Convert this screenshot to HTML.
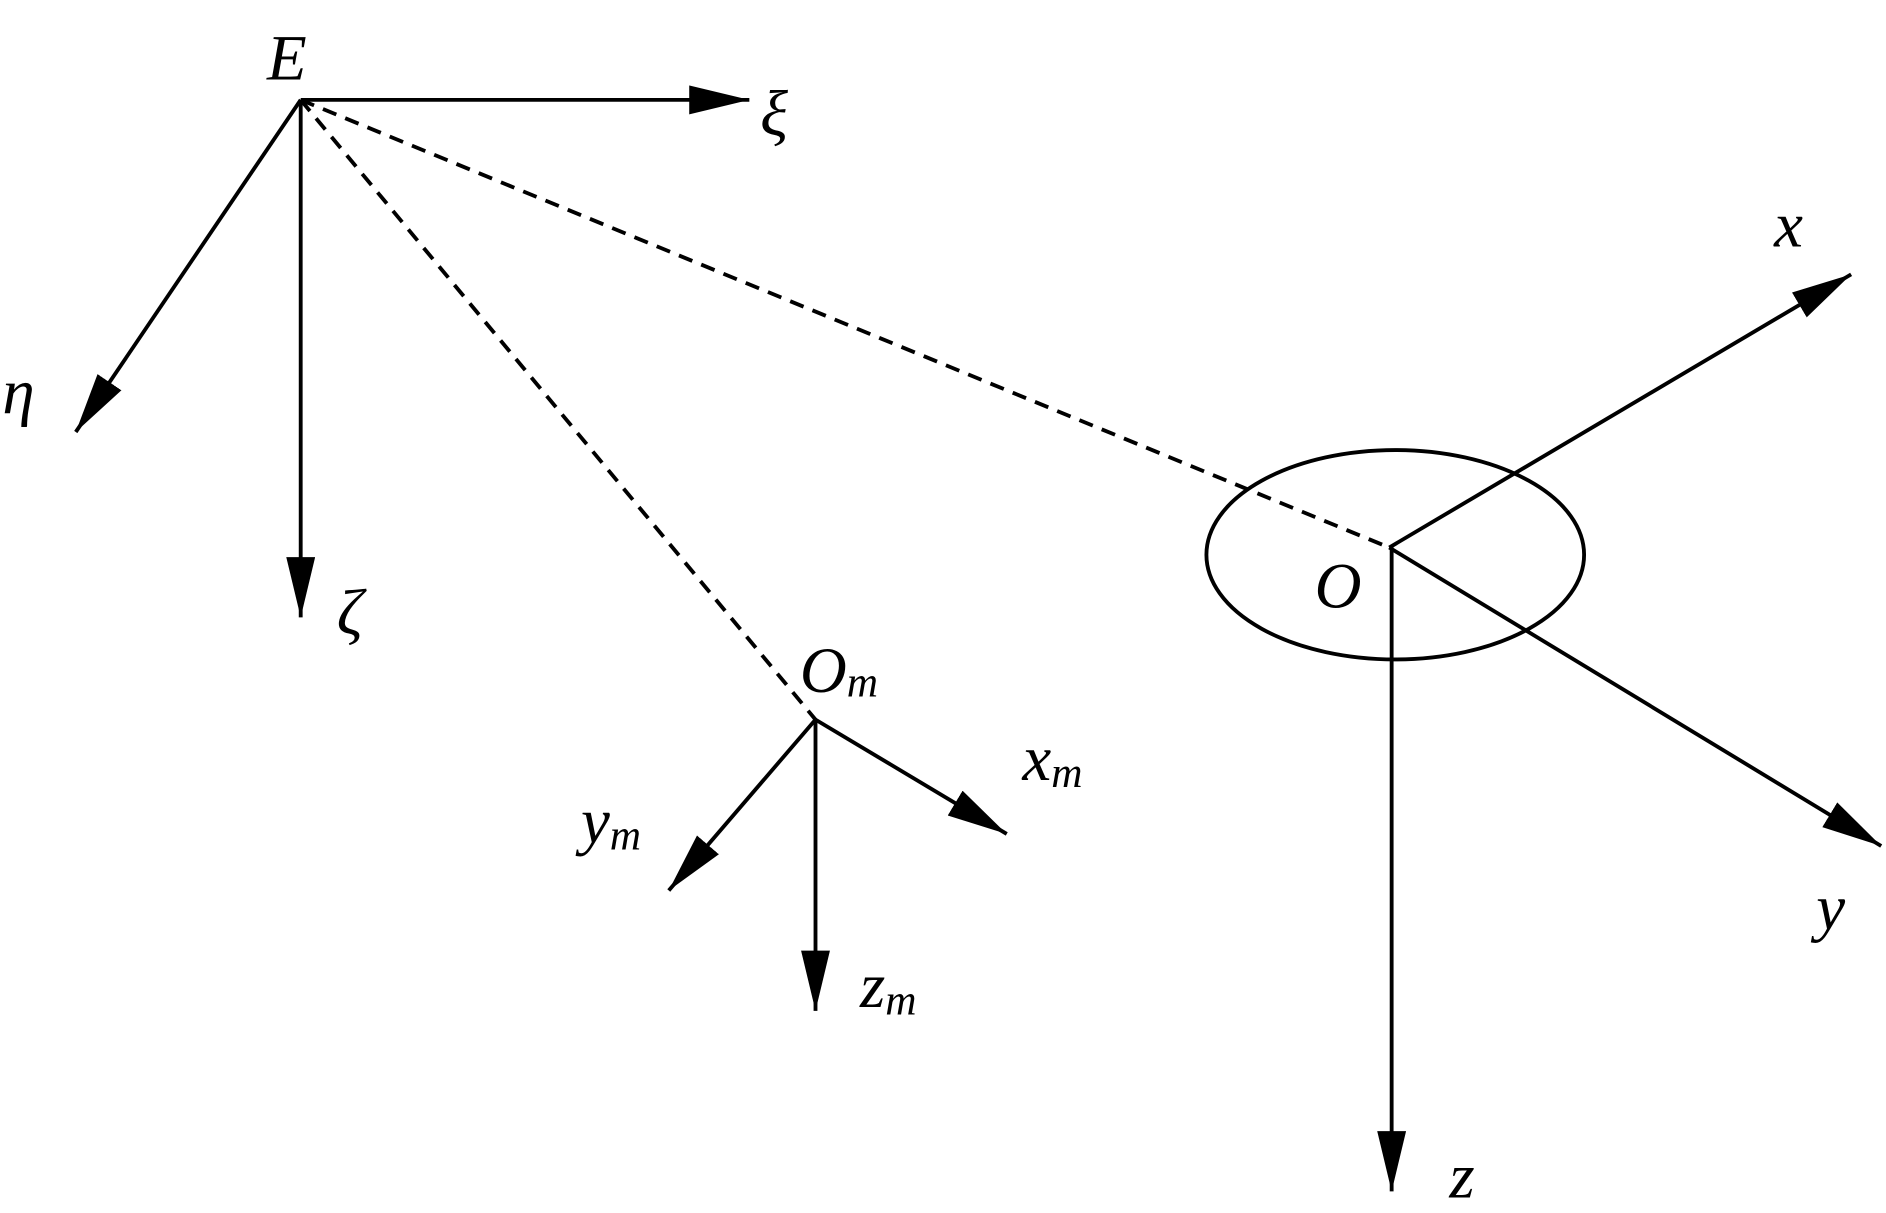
<!DOCTYPE html>
<html><head><meta charset="utf-8"><style>
html,body{margin:0;padding:0;background:#fff;}
svg{display:block;}
text{font-family:"Liberation Serif","Times New Roman",serif;font-style:italic;fill:#000;}
</style></head><body>
<svg width="1886" height="1213" viewBox="0 0 1568 1008" preserveAspectRatio="none" xmlns="http://www.w3.org/2000/svg">
<defs>
<marker id="a" markerUnits="userSpaceOnUse" markerWidth="52" markerHeight="26" refX="50" refY="12" orient="auto">
<path d="M0,0 L50,12 L0,24 z" fill="#000"/>
</marker>
</defs>
<g stroke="#000" stroke-width="3.2" fill="none">
<line x1="250" y1="83" x2="623" y2="83" marker-end="url(#a)"/>
<line x1="250" y1="83" x2="63" y2="359" marker-end="url(#a)"/>
<line x1="250" y1="83" x2="250" y2="513" marker-end="url(#a)"/>
<line x1="250" y1="83" x2="1155" y2="455" stroke-dasharray="12,8"/>
<line x1="250" y1="83" x2="678" y2="598" stroke-dasharray="12,8"/>
<ellipse cx="1160" cy="461" rx="157" ry="87"/>
<line x1="1155" y1="455" x2="1539" y2="228" marker-end="url(#a)"/>
<line x1="1155" y1="455" x2="1564" y2="703" marker-end="url(#a)"/>
<line x1="1157" y1="455" x2="1157" y2="990" marker-end="url(#a)"/>
<line x1="678" y1="598" x2="837" y2="693" marker-end="url(#a)"/>
<line x1="678" y1="598" x2="556" y2="740" marker-end="url(#a)"/>
<line x1="678" y1="598" x2="678" y2="840" marker-end="url(#a)"/>
</g>
<g font-size="54">
<text x="222" y="66">E</text>
<text x="632" y="112">ξ</text>
<text x="2" y="343">η</text>
<text x="280" y="527">ζ</text>
<text x="1475" y="205">x</text>
<text x="1510" y="772">y</text>
<text x="1205" y="995">z</text>
<text x="1093" y="505">O</text>
<text x="665" y="575">O<tspan font-size="36" dy="4">m</tspan></text>
<text x="850" y="648">x<tspan font-size="36" dy="6">m</tspan></text>
<text x="483" y="700">y<tspan font-size="36" dy="6">m</tspan></text>
<text x="715" y="837">z<tspan font-size="36" dy="6">m</tspan></text>
</g>
</svg>
</body></html>
